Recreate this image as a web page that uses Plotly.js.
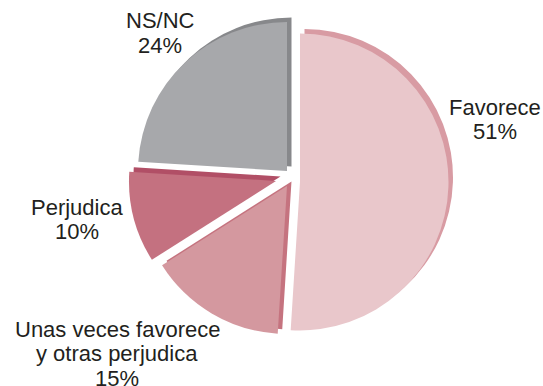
<!DOCTYPE html>
<html>
<head>
<meta charset="utf-8">
<script src="https://cdn.plot.ly/plotly-3.0.1.min.js"></script>
<style>html,body{margin:0;padding:0;background:#fff;}#chart{width:543px;height:386px;}</style>
</head>
<body>
<div id="chart"></div>
<script>
// ---- data ----
const categories = ['Favorece', 'Unas veces favorece y otras perjudica', 'Perjudica', 'NS/NC'];
const values = [51, 15, 10, 24];
const labelLines = [['Favorece'], ['Unas veces favorece', 'y otras perjudica'], ['Perjudica'], ['NS/NC']];
const faceColors = ['#E9C7CB', '#D4989F', '#C47180', '#A7A8AB'];
const edgeColors = ['#D89BA3', '#C5737F', '#B14F66', '#87888B'];

// ---- layout geometry (exploded slices: each slice drawn by its own pie trace) ----
const W = 543, H = 386;
const sliceCenters = [[300, 182], [287, 186], [276, 181], [287, 171]]; // px, vertex of each slice
const sliceRadius = [148.5, 148, 147, 149];
const shadowOffset = [4.5, -4.5];

function dom(c, r) {
  return {
    x: [(c[0] - r) / W, (c[0] + r) / W],
    y: [(H - c[1] - r) / H, (H - c[1] + r) / H]
  };
}
function sliceTrace(i, palette, off) {
  const cols = categories.map((_, k) => k === i ? palette[k] : 'rgba(0,0,0,0)');
  const c = [sliceCenters[i][0] + off[0], sliceCenters[i][1] + off[1]];
  return {
    type: 'pie', values: values, labels: categories, sort: false,
    direction: 'clockwise', rotation: 0,
    marker: {colors: cols, line: {width: 0}},
    textinfo: 'none', hoverinfo: 'skip', domain: dom(c, sliceRadius[i]), showlegend: false
  };
}
const traces = [];
categories.forEach((_, i) => traces.push(sliceTrace(i, edgeColors, shadowOffset)));
categories.forEach((_, i) => traces.push(sliceTrace(i, faceColors, [0, 0])));

// label anchor (px): center x, center y of first line
const labelPos = [[495, 107], [117, 329], [77, 207], [160, 21]];
const lineGap = 24.5;
const font = {family: 'Liberation Sans, Arial, sans-serif', size: 22, color: '#231F20'};
const annotations = [];
categories.forEach((c, i) => {
  const lines = labelLines[i].concat([values[i] + '%']);
  lines.forEach((t, j) => {
    annotations.push({
      text: t, showarrow: false, xref: 'paper', yref: 'paper',
      x: labelPos[i][0] / W, y: 1 - (labelPos[i][1] + j * lineGap) / H,
      xanchor: 'center', yanchor: 'middle', font: font
    });
  });
});

Plotly.newPlot('chart', traces, {
  width: W, height: H, margin: {l: 0, r: 0, t: 0, b: 0},
  paper_bgcolor: '#fff', plot_bgcolor: '#fff', showlegend: false,
  annotations: annotations
}, {staticPlot: true, displayModeBar: false});
</script>
</body>
</html>
